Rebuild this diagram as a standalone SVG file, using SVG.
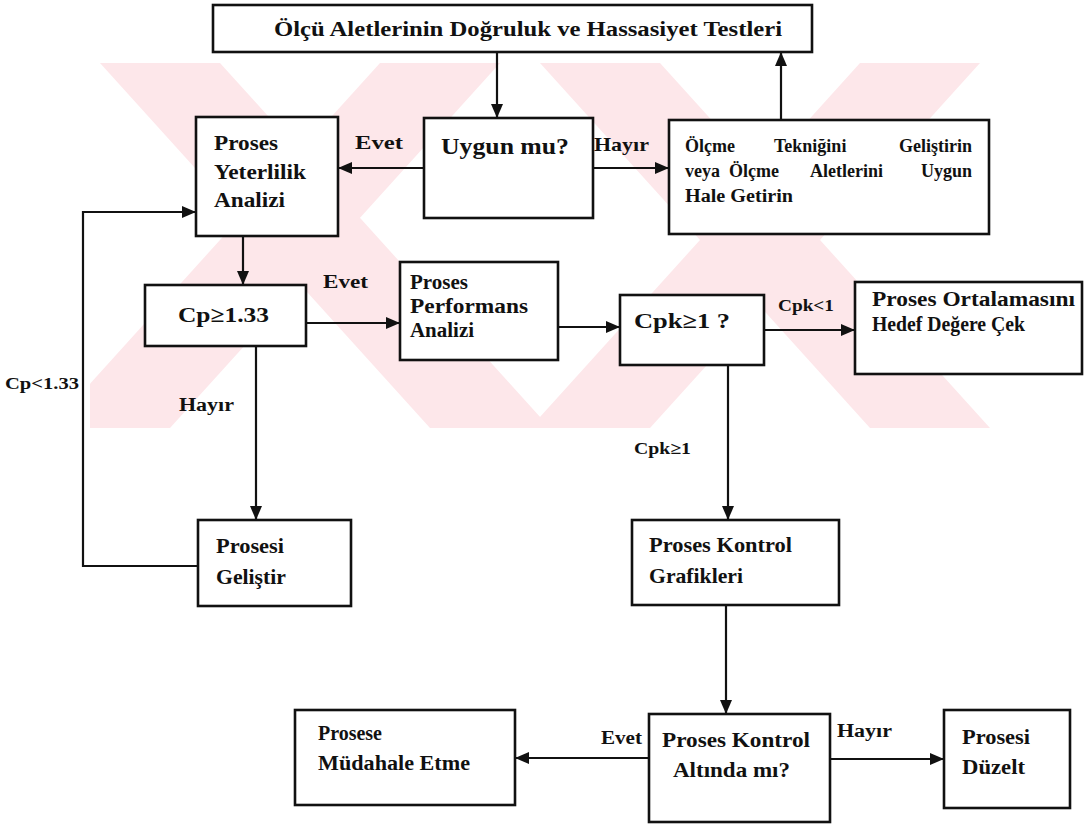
<svg xmlns="http://www.w3.org/2000/svg" width="1089" height="825" viewBox="0 0 1089 825">
<style>
.box{fill:#fff;stroke:#111;stroke-width:2.6}
.t{font-family:"Liberation Serif","Times New Roman",serif;font-weight:bold;fill:#111}
.c{fill:none;stroke:#111;stroke-width:2.2}
.wm{fill:#fde7ea}
</style>
<defs>
<marker id="ah" viewBox="0 0 14 12" refX="14" refY="6" markerWidth="14" markerHeight="12" markerUnits="userSpaceOnUse" orient="auto"><path d="M0,0 L14,6 L0,12 z" fill="#111"/></marker>
<clipPath id="wmclip"><rect x="90" y="63" width="920" height="365"/></clipPath>
</defs>
<rect width="1089" height="825" fill="#fff"/>
<g id="watermark" clip-path="url(#wmclip)">
<polygon class="wm" points="100,63 220,63 550,428 430,428"/>
<polygon class="wm" points="380,63 500,63 170,428 50,428"/>
<polygon class="wm" points="540,63 660,63 990,428 870,428"/>
<polygon class="wm" points="860,63 980,63 650,428 530,428"/>
</g>
<g id="connectors">
<path class="c" d="M497,52 V118" marker-end="url(#ah)"/>
<path class="c" d="M424,168 H338" marker-end="url(#ah)"/>
<path class="c" d="M593,168 H669" marker-end="url(#ah)"/>
<path class="c" d="M781,120 V52" marker-end="url(#ah)"/>
<path class="c" d="M243,236 V285" marker-end="url(#ah)"/>
<path class="c" d="M306,323 H400" marker-end="url(#ah)"/>
<path class="c" d="M558,327 H620" marker-end="url(#ah)"/>
<path class="c" d="M764,330 H855" marker-end="url(#ah)"/>
<path class="c" d="M256,346 V520" marker-end="url(#ah)"/>
<path class="c" d="M198,566 H83 V212 H196" marker-end="url(#ah)"/>
<path class="c" d="M728,365 V520" marker-end="url(#ah)"/>
<path class="c" d="M726,605 V714" marker-end="url(#ah)"/>
<path class="c" d="M649,758 H515" marker-end="url(#ah)"/>
<path class="c" d="M830,759 H944" marker-end="url(#ah)"/>
</g>
<g id="labels">
<text class="t" x="355" y="149" font-size="19" textLength="48" lengthAdjust="spacingAndGlyphs">Evet</text>
<text class="t" x="594" y="151" font-size="19" textLength="55" lengthAdjust="spacingAndGlyphs">Hayır</text>
<text class="t" x="323" y="288" font-size="19" textLength="45" lengthAdjust="spacingAndGlyphs">Evet</text>
<text class="t" x="179" y="411" font-size="18" textLength="55" lengthAdjust="spacingAndGlyphs">Hayır</text>
<text class="t" x="5" y="389" font-size="17" textLength="74" lengthAdjust="spacingAndGlyphs">Cp&lt;1.33</text>
<text class="t" x="778" y="311" font-size="17" textLength="56" lengthAdjust="spacingAndGlyphs">Cpk&lt;1</text>
<text class="t" x="634" y="454" font-size="17" textLength="57" lengthAdjust="spacingAndGlyphs">Cpk≥1</text>
<text class="t" x="601" y="744" font-size="18" textLength="41" lengthAdjust="spacingAndGlyphs">Evet</text>
<text class="t" x="837" y="737" font-size="18" textLength="55" lengthAdjust="spacingAndGlyphs">Hayır</text>
</g>
<g id="n-top">
<rect class="box" x="213" y="5" width="599" height="47"/>
<text class="t" x="274" y="36" font-size="20" textLength="508" lengthAdjust="spacingAndGlyphs">Ölçü Aletlerinin Doğruluk ve Hassasiyet Testleri</text>
</g>
<g id="n-uygun">
<rect class="box" x="424" y="118" width="169" height="100"/>
<text class="t" x="441" y="154" font-size="23" textLength="128" lengthAdjust="spacingAndGlyphs">Uygun mu?</text>
</g>
<g id="n-yeterlilik">
<rect class="box" x="196" y="117" width="142" height="119"/>
<text class="t" font-size="21" x="214" y="150" textLength="64" lengthAdjust="spacingAndGlyphs">Proses</text>
<text class="t" font-size="21" x="214" y="179" textLength="92" lengthAdjust="spacingAndGlyphs">Yeterlilik</text>
<text class="t" font-size="21" x="214" y="207" textLength="71" lengthAdjust="spacingAndGlyphs">Analizi</text>
</g>
<g id="n-olcme">
<rect class="box" x="669" y="120" width="320" height="114"/>
<text class="t" font-size="18"><tspan x="685" y="152">Ölçme</tspan><tspan x="774" y="152">Tekniğini</tspan><tspan x="972" y="152" text-anchor="end">Geliştirin</tspan></text>
<text class="t" font-size="18"><tspan x="685" y="177">veya</tspan><tspan x="729" y="177">Ölçme</tspan><tspan x="810" y="177">Aletlerini</tspan><tspan x="972" y="177" text-anchor="end">Uygun</tspan></text>
<text class="t" font-size="18" x="685" y="202" textLength="108" lengthAdjust="spacingAndGlyphs">Hale Getirin</text>
</g>
<g id="n-cp">
<rect class="box" x="145" y="285" width="161" height="61"/>
<text class="t" x="178" y="322" font-size="22" textLength="91" lengthAdjust="spacingAndGlyphs">Cp≥1.33</text>
</g>
<g id="n-performans">
<rect class="box" x="400" y="262" width="158" height="98"/>
<text class="t" font-size="20" x="410" y="289" textLength="58" lengthAdjust="spacingAndGlyphs">Proses</text>
<text class="t" font-size="20" x="410" y="313" textLength="118" lengthAdjust="spacingAndGlyphs">Performans</text>
<text class="t" font-size="20" x="410" y="337" textLength="64" lengthAdjust="spacingAndGlyphs">Analizi</text>
</g>
<g id="n-cpk">
<rect class="box" x="620" y="295" width="144" height="70"/>
<text class="t" x="634" y="328" font-size="22" textLength="96" lengthAdjust="spacingAndGlyphs">Cpk≥1 ?</text>
</g>
<g id="n-hedef">
<rect class="box" x="855" y="282" width="227" height="92"/>
<text class="t" font-size="20" x="872" y="306" textLength="203" lengthAdjust="spacingAndGlyphs">Proses Ortalamasını</text>
<text class="t" font-size="20" x="872" y="331" textLength="153" lengthAdjust="spacingAndGlyphs">Hedef Değere Çek</text>
</g>
<g id="n-gelistir">
<rect class="box" x="198" y="520" width="153" height="86"/>
<text class="t" font-size="21" x="216" y="553" textLength="68" lengthAdjust="spacingAndGlyphs">Prosesi</text>
<text class="t" font-size="21" x="216" y="584" textLength="70" lengthAdjust="spacingAndGlyphs">Geliştir</text>
</g>
<g id="n-grafikler">
<rect class="box" x="632" y="520" width="207" height="85"/>
<text class="t" font-size="21" x="649" y="552" textLength="143" lengthAdjust="spacingAndGlyphs">Proses Kontrol</text>
<text class="t" font-size="21" x="649" y="583" textLength="94" lengthAdjust="spacingAndGlyphs">Grafikleri</text>
</g>
<g id="n-kontrol">
<rect class="box" x="649" y="714" width="181" height="108"/>
<text class="t" font-size="21" x="662" y="747" textLength="148" lengthAdjust="spacingAndGlyphs">Proses Kontrol</text>
<text class="t" font-size="21" x="673" y="777" textLength="117" lengthAdjust="spacingAndGlyphs">Altında mı?</text>
</g>
<g id="n-mudahale">
<rect class="box" x="295" y="710" width="220" height="95"/>
<text class="t" font-size="20" x="318" y="740" textLength="64" lengthAdjust="spacingAndGlyphs">Prosese</text>
<text class="t" font-size="20" x="318" y="770" textLength="152" lengthAdjust="spacingAndGlyphs">Müdahale Etme</text>
</g>
<g id="n-duzelt">
<rect class="box" x="944" y="710" width="126" height="98"/>
<text class="t" font-size="20" x="962" y="744" textLength="68" lengthAdjust="spacingAndGlyphs">Prosesi</text>
<text class="t" font-size="20" x="962" y="774" textLength="63" lengthAdjust="spacingAndGlyphs">Düzelt</text>
</g>
</svg>
